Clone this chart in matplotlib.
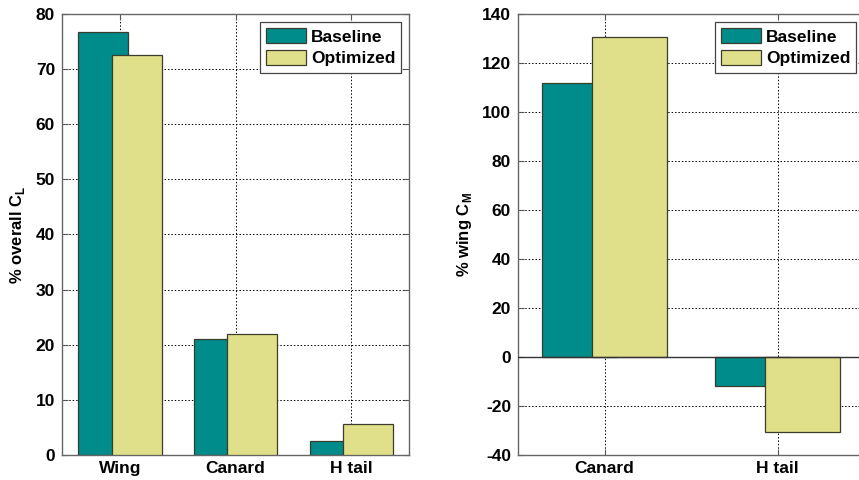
import numpy as np
import matplotlib.pyplot as plt

plt.rcParams['font.family'] = ['Liberation Sans', 'DejaVu Sans']
plt.rcParams['font.weight'] = 'bold'
plt.rcParams['axes.unicode_minus'] = False
plt.rcParams['mathtext.fontset'] = 'custom'
plt.rcParams['mathtext.bf'] = 'Liberation Sans:bold'
plt.rcParams['mathtext.rm'] = 'Liberation Sans:bold'

# data
cl_labels = ['Wing', 'Canard', 'H tail']
cl_baseline = [76.8, 21.0, 2.5]
cl_optimized = [72.5, 21.9, 5.7]

cm_labels = ['Canard', 'H tail']
cm_baseline = [111.7, -11.7]
cm_optimized = [130.7, -30.7]

teal = '#008C8A'
yellow = '#E0E08A'
edge = '#3C3C2C'

fig = plt.figure(figsize=(8.59, 4.8), dpi=100)
ax1 = fig.add_axes([0.0722, 0.052, 0.404, 0.919])
ax2 = fig.add_axes([0.603, 0.052, 0.403, 0.919])

def draw(ax, labels, base, opt, ylim, yticks, ylabel):
    x = np.arange(1, len(labels) + 1)
    w = 0.43
    off = 0.145
    ax.bar(x - off, base, w, color=teal, edgecolor=edge, linewidth=0.9, label='Baseline', zorder=2)
    ax.bar(x + off, opt, w, color=yellow, edgecolor=edge, linewidth=0.9, label='Optimized', zorder=3)
    ax.set_xlim(0.5, len(labels) + 0.5)
    ax.set_ylim(*ylim)
    ax.set_yticks(yticks)
    ax.set_xticks(x)
    ax.set_xticklabels(labels, fontsize=12.5, fontweight='bold')
    ax.tick_params(axis='y', labelsize=12.5, direction='in', length=4, color='#555555', pad=5)
    ax.tick_params(axis='x', direction='in', length=4, color='#555555', pad=4)
    ax.tick_params(top=True, right=True)
    ax.set_axisbelow(True)
    ax.grid(True, linestyle=(0, (1.5, 2)), color='black', linewidth=0.7)
    for s in ax.spines.values():
        s.set_color('#666666')
        s.set_linewidth(1.0)
    ax.set_ylabel(ylabel, fontsize=12, fontweight='bold', labelpad=6)
    leg = ax.legend(loc='upper right', fontsize=12.5, fancybox=False, framealpha=1,
                    edgecolor='#444444', handlelength=2.3, handleheight=1.0,
                    borderpad=0.35, labelspacing=0.3, handletextpad=0.3,
                    borderaxespad=0.45)
    leg.get_frame().set_linewidth(0.9)
    for t in leg.get_texts():
        t.set_fontweight('bold')

draw(ax1, cl_labels, cl_baseline, cl_optimized, (0, 80), np.arange(0, 81, 10),
     r'% overall C$_\mathbf{L}$')
draw(ax2, cm_labels, cm_baseline, cm_optimized, (-40, 140), np.arange(-40, 141, 20),
     r'% wing C$_\mathbf{M}$')
ax2.axhline(0, color='#333333', linewidth=1.0, zorder=4)

fig.savefig('out.png', dpi=100)
